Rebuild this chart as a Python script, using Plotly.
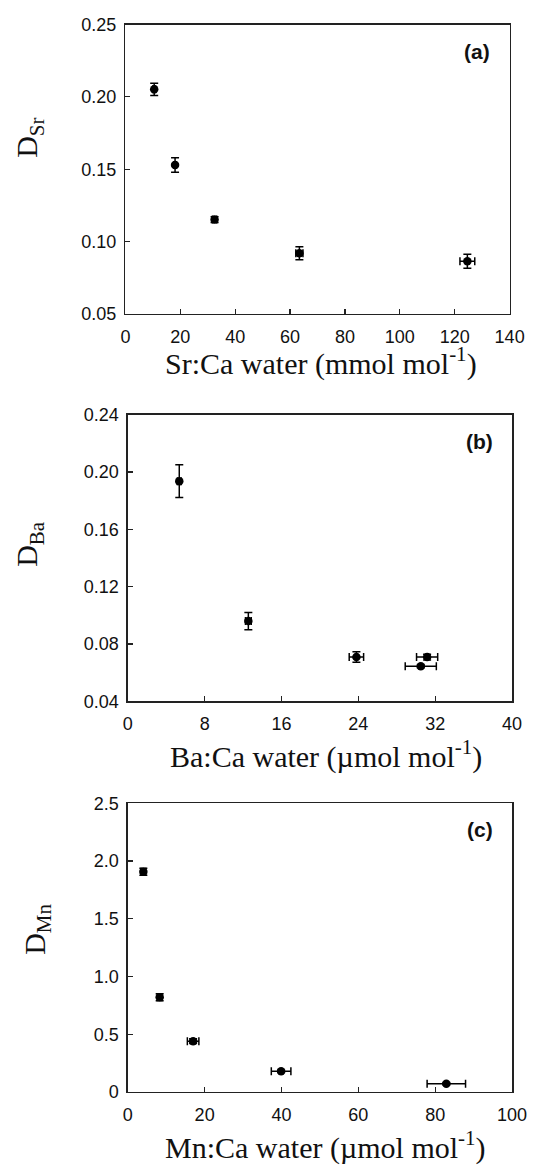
import plotly.graph_objects as go

# ---- Panel (a): Sr ----
sr_x = [10.5, 18.1, 32.5, 63.4, 124.6]
sr_y = [0.2052, 0.153, 0.1152, 0.092, 0.0864]
sr_xerr = [0.5, 0.5, 0.8, 1.3, 2.7]
sr_yerr = [0.0043, 0.005, 0.002, 0.0045, 0.0049]
sr_xticks = [0, 20, 40, 60, 80, 100, 120, 140]
sr_yticks = [0.05, 0.10, 0.15, 0.20, 0.25]
sr_yticktext = ["0.05", "0.10", "0.15", "0.20", "0.25"]

# ---- Panel (b): Ba ----
ba_x = [5.36, 12.55, 23.8, 31.16, 30.5]
ba_y = [0.1936, 0.096, 0.0709, 0.0709, 0.0644]
ba_xerr = [0.2, 0.3, 0.75, 1.1, 1.62]
ba_yerr = [0.0114, 0.006, 0.0037, 0.002, 0.001]
ba_xticks = [0, 8, 16, 24, 32, 40]
ba_yticks = [0.04, 0.08, 0.12, 0.16, 0.20, 0.24]
ba_yticktext = ["0.04", "0.08", "0.12", "0.16", "0.20", "0.24"]

# ---- Panel (c): Mn ----
mn_x = [4.05, 8.3, 17.0, 39.9, 82.9]
mn_y = [1.907, 0.82, 0.44, 0.179, 0.0715]
mn_xerr = [0.6, 0.6, 1.5, 2.55, 5.0]
mn_yerr = [0.03, 0.03, 0.02, 0.01, 0.01]
mn_xticks = [0, 20, 40, 60, 80, 100]
mn_yticks = [0, 0.5, 1.0, 1.5, 2.0, 2.5]
mn_yticktext = ["0", "0.5", "1.0", "1.5", "2.0", "2.5"]

W, H = 541, 1174
SANS = "Liberation Sans, Arial, sans-serif"
SERIF = "Liberation Serif, Times New Roman, serif"


def fx(px):
    return px / W


def fy(py):
    return 1 - py / H


panels = [
    dict(x=sr_x, y=sr_y, xe=sr_xerr, ye=sr_yerr, xt=sr_xticks, yt=sr_yticks, ytt=sr_yticktext,
         xr=[0, 140], yr=[0.05, 0.25], px=(125, 524), py=(14.8, 309.2),
         label="(a)", ytitle="D<sub>Sr</sub>", xtitle="Sr:Ca water (mmol mol<sup>-1</sup>)",
         ytpos=(25, 130), xtpos=(328, 358)),
    dict(x=ba_x, y=ba_y, xe=ba_xerr, ye=ba_yerr, xt=ba_xticks, yt=ba_yticks, ytt=ba_yticktext,
         xr=[0, 40], yr=[0.04, 0.24], px=(127.5, 526.5), py=(411.7, 703.3),
         label="(b)", ytitle="D<sub>Ba</sub>", xtitle="Ba:Ca water (µmol mol<sup>-1</sup>)",
         ytpos=(25, 543), xtpos=(333, 757)),
    dict(x=mn_x, y=mn_y, xe=mn_xerr, ye=mn_yerr, xt=mn_xticks, yt=mn_yticks, ytt=mn_yticktext,
         xr=[0, 100], yr=[0, 2.5], px=(127.5, 526.5), py=(807, 1100.7),
         label="(c)", ytitle="D<sub>Mn</sub>", xtitle="Mn:Ca water (µmol mol<sup>-1</sup>)",
         ytpos=(33, 935), xtpos=(333, 1155)),
]

fig = go.Figure()
layout = dict(width=W, height=H, margin=dict(l=0, r=0, t=0, b=0),
              paper_bgcolor="white", plot_bgcolor="white", showlegend=False,
              annotations=[])

for i, p in enumerate(panels):
    n = "" if i == 0 else str(i + 1)
    xa, ya = "x" + n, "y" + n
    fig.add_trace(go.Scatter(
        x=p["x"], y=p["y"], mode="markers", xaxis=xa, yaxis=ya,
        marker=dict(color="black", size=8.5, symbol="circle"),
        error_x=dict(type="data", array=p["xe"], color="black", thickness=1.5, width=4),
        error_y=dict(type="data", array=p["ye"], color="black", thickness=1.5, width=4),
        cliponaxis=False,
    ))
    common = dict(showline=True, linecolor="#222", linewidth=1.5, mirror=True,
                  ticks="inside", ticklen=5, tickwidth=1.2, tickcolor="#222",
                  showgrid=False, zeroline=False, fixedrange=True,
                  ticklabeloverflow="allow",
                  tickfont=dict(family=SANS, size=18, color="#111"))
    layout["xaxis" + n] = dict(common, range=p["xr"], tickvals=p["xt"],
                               domain=[fx(p["px"][0]), fx(p["px"][1])],
                               anchor=ya, ticklabelstandoff=6)
    layout["yaxis" + n] = dict(common, range=p["yr"], tickvals=p["yt"], ticktext=p["ytt"],
                               domain=[fy(p["py"][1]), fy(p["py"][0])],
                               anchor=xa, ticklabelstandoff=4)
    layout["annotations"] += [
        dict(text="<b>" + p["label"] + "</b>", xref="paper", yref="paper",
             x=fx(p["px"][1] - 18), y=fy(p["py"][0] + 27),
             xanchor="right", yanchor="middle", showarrow=False,
             font=dict(family=SANS, size=21, color="#111")),
        dict(text=p["ytitle"], xref="paper", yref="paper",
             x=fx(p["ytpos"][0]), y=fy(p["ytpos"][1]), textangle=-90,
             xanchor="center", yanchor="middle", showarrow=False,
             font=dict(family=SERIF, size=30, color="#111")),
        dict(text=p["xtitle"], xref="paper", yref="paper",
             x=fx(p["xtpos"][0]), y=fy(p["xtpos"][1]),
             xanchor="center", yanchor="middle", showarrow=False,
             font=dict(family=SERIF, size=30, color="#111")),
    ]

fig.update_layout(**layout)
fig.write_html("out.html",
               config={"displayModeBar": False, "staticPlot": True},
               post_script="document.body.style.margin='0';document.body.style.overflow='hidden';")
